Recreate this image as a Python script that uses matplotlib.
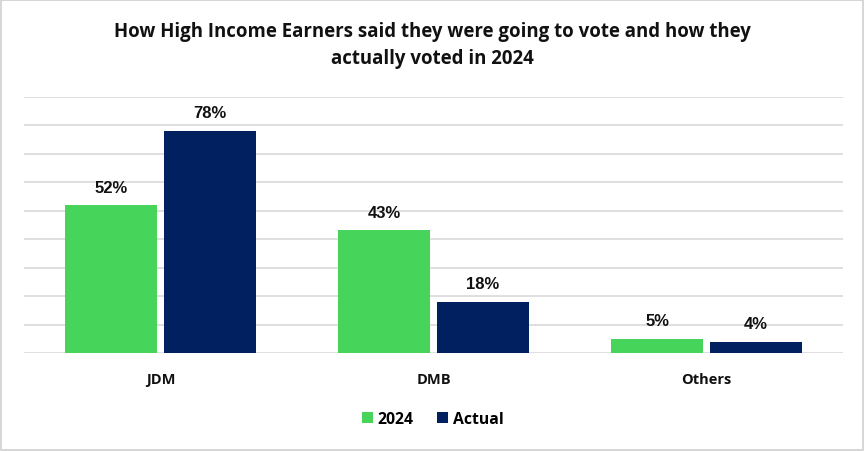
import matplotlib.pyplot as plt
import numpy as np
from matplotlib.patches import Rectangle

# Data
categories = ['JDM', 'DMB', 'Others']
said_2024 = [52, 43, 5]
actual = [78, 18, 4]
series_names = ['2024', 'Actual']

green = '#47D45A'
navy = '#002060'
font = 'Open Sans'

fig = plt.figure(figsize=(8.65, 4.52), dpi=100)
ax = fig.add_axes([24 / 865, 1 - 354 / 452, 819 / 865, (354 - 97.5) / 452])

x = np.arange(len(categories))
w = 0.337
off = 0.18
b1 = ax.bar(x - off, said_2024, w, color=green, label=series_names[0], zorder=3)
b2 = ax.bar(x + off, actual, w, color=navy, label=series_names[1], zorder=3)

for bars, vals in [(b1, said_2024), (b2, actual)]:
    for r, v in zip(bars, vals):
        ax.text(r.get_x() + r.get_width() / 2, v + 3.6, f'{v}%', ha='center', va='bottom',
                fontsize=12, fontweight='bold', family='Liberation Sans', color='#111111')

ax.set_xlim(-0.5, 2.5)
ax.set_ylim(0, 90)
ax.set_yticks(np.arange(0, 91, 10))
ax.set_yticklabels([])
ax.tick_params(axis='y', length=0)
ax.tick_params(axis='x', length=0, pad=14)
ax.set_xticks(x)
ax.set_xticklabels(categories)
for t in ax.get_xticklabels():
    t.set_fontproperties({'family': font, 'weight': 'bold', 'size': 10.5})
    t.set_color('#111111')
ax.grid(axis='y', color='#D9D9D9', linewidth=1.2, zorder=0)
for s in ax.spines.values():
    s.set_visible(False)

fig.text(0.5, 1 - 32 / 452, 'How High Income Earners said they were going to vote and how they',
         ha='center', va='center', fontsize=13.4, fontweight='bold', family=font, color='#111111')
fig.text(0.5, 1 - 59 / 452, 'actually voted in 2024',
         ha='center', va='center', fontsize=13.4, fontweight='bold', family=font, color='#111111')

leg = fig.legend(handles=[b1, b2], labels=series_names, loc='center', bbox_to_anchor=(0.5, 1 - 420 / 452),
                 ncol=2, frameon=False, handlelength=0.7, handleheight=0.7, handletextpad=0.3,
                 columnspacing=1.5, prop={'family': font, 'weight': 'bold', 'size': 11.3})

fig.patches.append(Rectangle((0.001, 0.002), 0.997, 0.995, transform=fig.transFigure,
                             fill=False, edgecolor='#D0D0D0', linewidth=1.2))

fig.savefig('out.png', dpi=100)
